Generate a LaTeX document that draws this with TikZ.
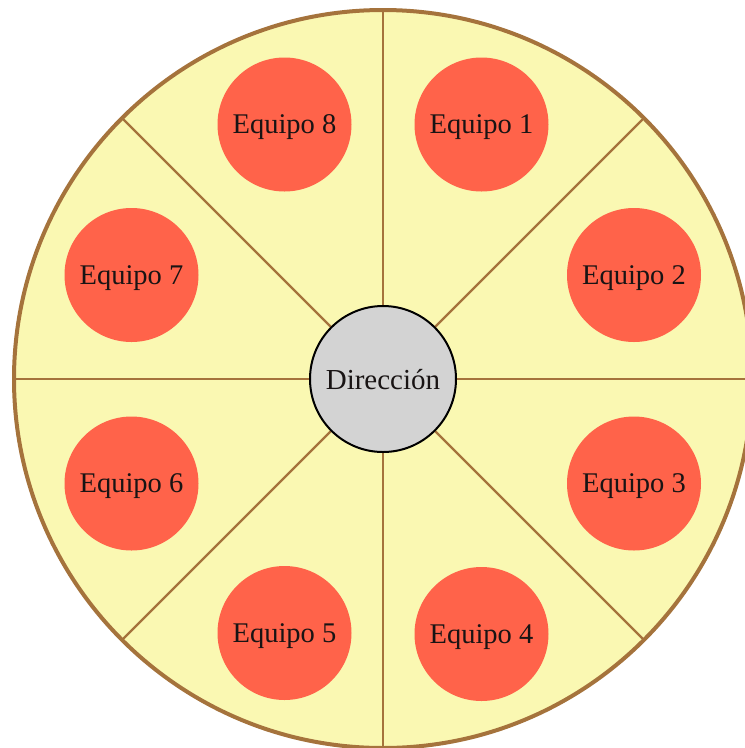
\documentclass[tikz,border=0pt]{standalone}
\usepackage{fontspec}
\setmainfont{Liberation Serif}
\definecolor{wheelfill}{RGB}{250,248,178}
\definecolor{wheelline}{RGB}{165,115,60}
\definecolor{teamfill}{RGB}{255,99,74}
\definecolor{hubfill}{RGB}{211,211,211}
\definecolor{ink}{RGB}{25,20,20}
\begin{document}
\begin{tikzpicture}[x=1pt,y=-1pt,
  wheel/.style={circle,draw=wheelline,line width=4pt,fill=wheelfill,minimum size=738pt,inner sep=0pt},
  spoke/.style={draw=wheelline,line width=2.4pt},
  team/.style={circle,fill=teamfill,minimum size=134pt,inner sep=0pt,text=ink,text depth=0pt,
    font=\fontsize{28.5}{32}\selectfont},
  hub/.style={circle,draw=black,line width=2pt,fill=hubfill,minimum size=146pt,inner sep=0pt,
    text=ink,text depth=0pt,font=\fontsize{29}{32}\selectfont}]
  \useasboundingbox (0,0) rectangle (745,748);
  \begin{scope}
    \clip (0,0) rectangle (745,748);
    \node[wheel] (rueda) at (383,379) {};
    % spokes from the hub to the rim
    \foreach \a in {0,45,...,315}
      \draw[spoke] (383,379) -- ++(\a:369);
  \end{scope}
  \node[hub] (dir) at (383,379) {Dirección};
  \node[team] (e1) at (481.5,124.5) {Equipo 1};
  \node[team] (e2) at (634,275) {Equipo 2};
  \node[team] (e3) at (634,483.5) {Equipo 3};
  \node[team] (e4) at (481.5,634) {Equipo 4};
  \node[team] (e5) at (284.5,633) {Equipo 5};
  \node[team] (e6) at (131.5,483.5) {Equipo 6};
  \node[team] (e7) at (131.5,275) {Equipo 7};
  \node[team] (e8) at (284.5,124.5) {Equipo 8};
\end{tikzpicture}
\end{document}
